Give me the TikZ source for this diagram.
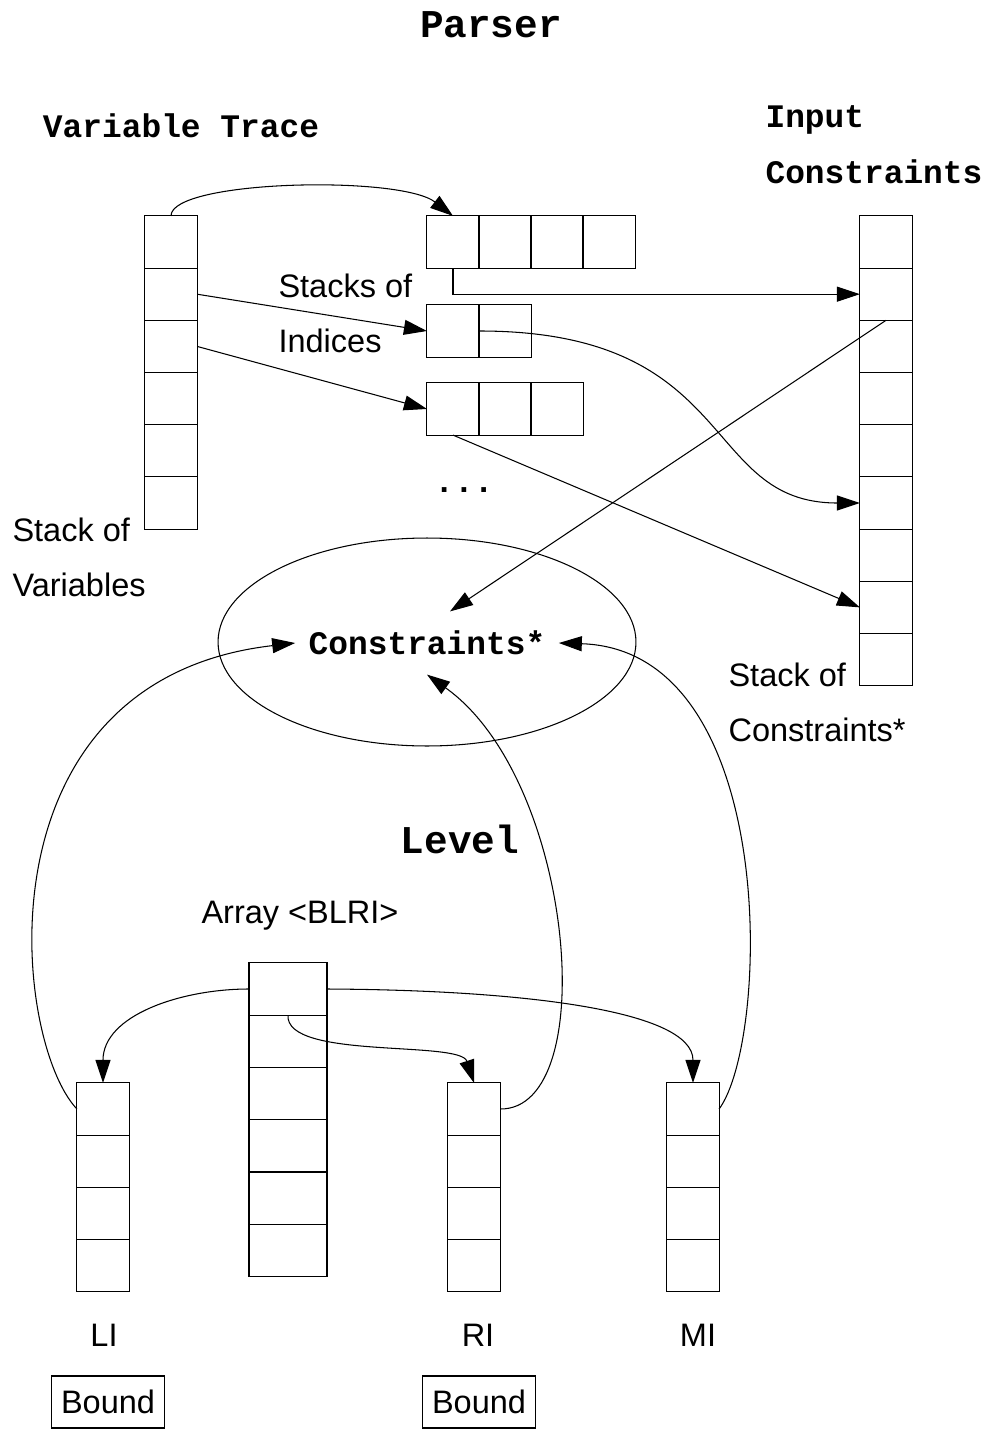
\documentclass[tikz,border=0pt]{standalone}
\usepackage{fontspec}
\setmainfont{Liberation Sans}
\setmonofont{Liberation Mono}
\usetikzlibrary{arrows.meta,shapes.geometric}

\tikzset{
  cell/.style={draw, minimum width=1.044cm, minimum height=1.044cm, inner sep=0pt, outer sep=0pt},
  wcell/.style={cell, minimum width=1.56cm},
  title/.style={font=\fontsize{22.4}{26}\selectfont\ttfamily\bfseries, inner sep=0pt},
  head/.style={font=\fontsize{18.7}{31.8}\selectfont\ttfamily\bfseries, inner sep=0pt, align=left},
  txt/.style={font=\fontsize{18.5}{31.6}\selectfont, inner sep=0pt, align=left},
  boundbox/.style={draw, txt, minimum width=2.26cm, minimum height=1.04cm},
}

\begin{document}
\begin{tikzpicture}[x=0.02cm, y=-0.02cm, line width=0.6pt,
    >={Triangle[length=0.46cm,width=0.3cm]}]
\useasboundingbox (0,0) rectangle (987,1429);

            % titles
            \node[title] (parser) at (491,25) {Parser};
            \node[head] (vtrace) at (181,126) {Variable Trace};
            \node[head, anchor=north west] (input) at (765,105) {Input\\Constraints};
            \node[title] (level) at (460,839) {Level};

            % stacks of the parser
            \foreach \i in {1,...,6} \node[cell] (v\i) at (171,{242+52.2*(\i-1)}) {};
            \foreach \i in {1,...,4} \node[cell] (ta\i) at ({453+52*(\i-1)},242) {};
            \foreach \i in {1,2} \node[cell] (tb\i) at ({453+52*(\i-1)},331) {};
            \foreach \i in {1,...,3} \node[cell] (tc\i) at ({453+52*(\i-1)},409) {};
            \foreach \i in {1,...,9} \node[cell] (c\i) at (886,{242+52.2*(\i-1)}) {};

            \node[txt, anchor=north west] (stacksidx) at (278,273) {Stacks of\\Indices};
            \node[head, anchor=base] (dots) at (464,492) {...};
            \node[txt, anchor=north west] (stackvar) at (12,517) {Stack of\\Variables};
            \node[txt, anchor=north west] (stackcons) at (728,662) {Stack of\\Constraints*};

            \node[draw, ellipse, inner sep=0pt, minimum width=8.36cm, minimum height=4.16cm] (ell) at (427,642) {};
            \node[head, inner xsep=0.26cm, inner ysep=0.38cm] (cons) at (427,643) {Constraints*};

            % level
            \node[txt] (arrlbl) at (300,916) {Array <BLRI>};
            \foreach \i in {1,...,6} \node[wcell] (a\i) at (288,{989+52.3*(\i-1)}) {};
            \foreach \i in {1,...,4} \node[cell] (l\i) at (103,{1109+52.25*(\i-1)}) {};
            \foreach \i in {1,...,4} \node[cell] (r\i) at (474,{1109+52.25*(\i-1)}) {};
            \foreach \i in {1,...,4} \node[cell] (m\i) at (693,{1109+52.25*(\i-1)}) {};

            \node[txt] (li) at (104,1335) {LI};
            \node[txt] (ri) at (478,1335) {RI};
            \node[txt] (mi) at (698,1335) {MI};
            \node[boundbox] (boundl) at (108,1402) {Bound};
            \node[boundbox] (boundr) at (479,1402) {Bound};

            % parser arrows
            \draw[->] (v1.north) .. controls (171,180) and (400,175) .. (ta1.north);
            \draw[->] (ta1.south) |- (c2.west);
            \path[->] (v2.east) edge (tb1.west);
            \path[->] (v3.east) edge (tc1.west);
            \draw[->] (tb1.east) .. controls (740,331) and (700,503) .. (c6.west);
            \path[->] (tc1.south) edge (c8.west);
            \path[->] (c2.south) edge ([xshift=0.46cm]cons.north);

            % level arrows
            \draw[->] (l1.west) .. controls (12,1040) and (-25,680) .. (cons.west);
            \draw[->] (r1.east) .. controls (602,1110) and (575,780) .. (cons.south);
            \draw[->] (m1.east) .. controls (770,1040) and (780,650) .. (cons.east);
            \draw[->] (a1.west) to[out=180,in=90] (l1.north);
            \draw[->] (a1.east) .. controls (520,990) and (693,1010) .. (m1.north);
            \draw[->] (a1.south) .. controls (285,1060) and (460,1040) .. (r1.north);

        \end{tikzpicture}
\end{document}
